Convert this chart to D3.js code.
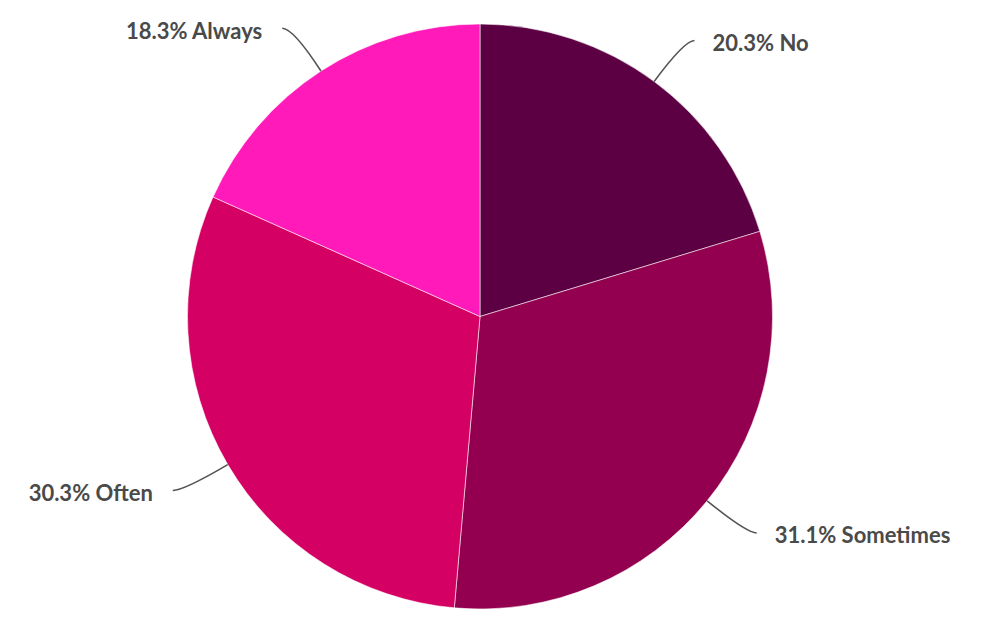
<!DOCTYPE html>
<html><head><meta charset="utf-8">
<script src="https://cdn.jsdelivr.net/npm/d3@7"></script>
<style>html,body{margin:0;padding:0;background:#fff;}svg{display:block;}</style>
</head><body>
<svg id="chart" width="1000" height="634"></svg>
<script>
const categories = ["No", "Sometimes", "Often", "Always"];
const values = [20.3, 31.1, 30.3, 18.3];
const colors = ["#5d0043", "#930050", "#d40063", "#ff1ab9"];

const W = 1000, H = 634, cx = 480, cy = 316.5, R = 292.5;
const svg = d3.select("#chart");
const g = svg.append("g").attr("transform", `translate(${cx},${cy})`);

const data = categories.map((c, i) => ({ cat: c, val: values[i], color: colors[i] }));
const pie = d3.pie().sort(null).value(d => d.val);
const arcs = pie(data);
const arc = d3.arc().innerRadius(0).outerRadius(R);

g.selectAll("path.slice").data(arcs).join("path")
  .attr("class", "slice")
  .attr("d", arc)
  .attr("fill", d => d.data.color)
  .attr("stroke", "rgba(255,255,255,0.55)")
  .attr("stroke-width", 1);

const fmt = d3.format(".1f");
arcs.forEach(a => {
  const m = (a.startAngle + a.endAngle) / 2;
  const sx = Math.sin(m), sy = -Math.cos(m);
  const p0 = [R * sx, R * sy];
  const pc = [(R + 51) * sx, (R + 51) * sy];
  const right = sx >= 0;
  const p1 = [pc[0] + (right ? 10 : -11), pc[1]];
  g.append("path")
    .attr("d", `M${p0[0]},${p0[1]} Q${pc[0]},${pc[1]} ${p1[0]},${p1[1]}`)
    .attr("fill", "none")
    .attr("stroke", "#555")
    .attr("stroke-width", 1.6);
  g.append("text")
    .attr("x", p1[0] + (right ? 18 : -20))
    .attr("y", p1[1] + 10.5)
    .attr("text-anchor", right ? "start" : "end")
    .attr("font-family", "Lato, 'Open Sans', sans-serif")
    .attr("font-weight", "bold")
    .attr("font-size", 22)
    .attr("fill", "#4a4a4a")
    .text(`${fmt(a.data.val)}% ${a.data.cat}`);
});
</script>
</body></html>
